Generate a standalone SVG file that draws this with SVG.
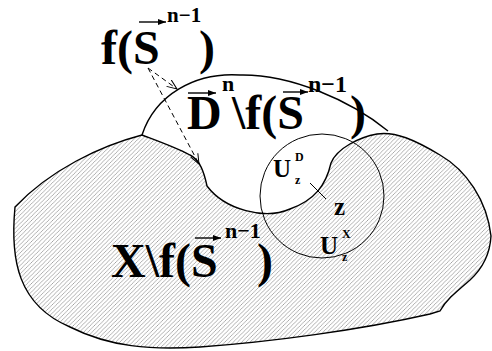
<svg xmlns="http://www.w3.org/2000/svg" width="492" height="351" viewBox="0 0 492 351">
<style>
.t{font-family:"Liberation Serif","Times New Roman",serif;font-weight:bold;fill:#000}
.big{font-size:48px}
.sup{font-size:22px}
.edge{fill:none;stroke:#000;stroke-width:1.4}
.dash{fill:none;stroke:#000;stroke-width:1;stroke-dasharray:5 3.5}
.vec{stroke:#000;stroke-width:1.4}
</style>
<defs>
<pattern id="hatch" patternUnits="userSpaceOnUse" width="4.2" height="4.2">
<path d="M-1,1 L1,-1 M0,4.2 L4.2,0 M3.2,5.2 L5.2,3.2" stroke="#7a7a7a" stroke-width="0.6"/>
</pattern>
<marker id="open" markerWidth="12" markerHeight="12" refX="10" refY="5" orient="auto" markerUnits="userSpaceOnUse">
<path d="M0,1 L10,5 L0,9" fill="none" stroke="#000" stroke-width="1"/>
</marker>
<marker id="solid" markerWidth="10" markerHeight="8" refX="8" refY="3" orient="auto" markerUnits="userSpaceOnUse">
<path d="M0,0 L8,3 L0,6 Z" fill="#000"/>
</marker>
</defs>
<rect width="492" height="351" fill="#fff"/>

<g id="region-x">
<path class="edge" style="fill:url(#hatch)" d="M142,135 C100,146 50,170 15,207 C10,260 18,305 70,327 C110,347 150,350 200,347 C270,342 360,330 430,314 L440,311 C446,300 456,292 470,280 C483,268 490,255 491,236 C487,200 466,170 440,155 C415,140 395,131 377,134 C360,137 337,148 331,163 C326,185 315,200 290,209 C265,220 225,210 207,186 C204,172 200,160 190,155 C175,147 155,140 142,135 Z"/>
</g>

<g id="region-d">
<path class="edge" d="M142,135 C155,95 195,72 240,75 C290,74 350,100 388,131"/>
</g>

<g id="neighbourhood">
<circle cx="322" cy="196" r="62" fill="none" stroke="#000" stroke-width="1"/>
<line x1="310" y1="183" x2="326" y2="199" stroke="#000" stroke-width="1"/>
</g>

<g id="label-fs">
<text class="t big" x="101" y="64">f(S</text>
<line class="vec" x1="139" y1="22" x2="166" y2="22" marker-end="url(#solid)"/>
<text class="t" style="font-size:21px" x="167" y="22">n−1</text>
<text class="t big" x="199" y="64">)</text>
</g>

<g id="label-d">
<text class="t big" x="187" y="129">D</text>
<line class="vec" x1="188" y1="93" x2="216" y2="93" marker-end="url(#solid)"/>
<text class="t sup" x="222" y="91">n</text>
<text class="t big" x="232" y="129">\f(S</text>
<line class="vec" x1="283" y1="92" x2="308" y2="92" marker-end="url(#solid)"/>
<text class="t" style="font-size:24px" x="308" y="92">n−1</text>
<text class="t big" x="350" y="129">)</text>
</g>

<g id="label-x">
<text class="t big" x="111" y="277">X\f(S</text>
<line class="vec" x1="195" y1="238" x2="221" y2="238" marker-end="url(#solid)"/>
<text class="t sup" x="225" y="238">n−1</text>
<text class="t big" x="257" y="277">)</text>
</g>

<g id="label-u">
<text class="t" style="font-size:25px" x="273" y="177">U</text>
<text class="t" style="font-size:12px" x="295" y="161">D</text>
<text class="t" style="font-size:12px" x="295" y="184">z</text>
<text class="t" style="font-size:25px" x="334" y="215">z</text>
<text class="t" style="font-size:25px" x="320" y="254">U</text>
<text class="t" style="font-size:12px" x="342" y="238">X</text>
<text class="t" style="font-size:12px" x="342" y="261">z</text>
</g>

<g id="connectors">
<line class="dash" x1="148" y1="68" x2="177" y2="89" marker-end="url(#open)"/>
<line class="dash" x1="148" y1="68" x2="199" y2="164" marker-end="url(#open)"/>
</g>
</svg>
